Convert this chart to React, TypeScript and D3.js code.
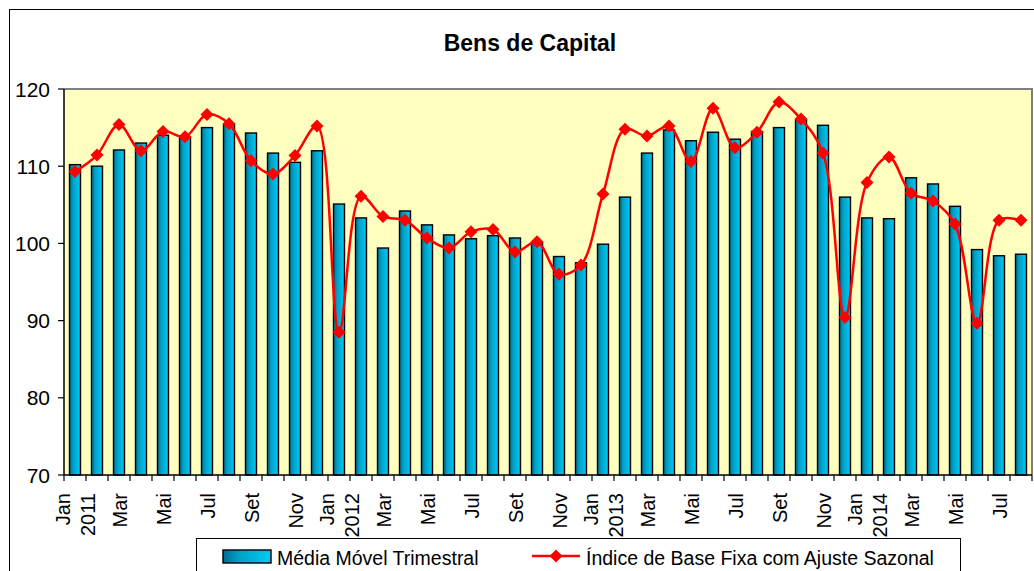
import React from "react";
import * as d3 from "d3";

const title = "Bens de Capital";
const monthNames = ["Jan", "Fev", "Mar", "Abr", "Mai", "Jun", "Jul", "Ago", "Set", "Out", "Nov", "Dez"];
const years = ["2011", "2012", "2013", "2014"];
const shownMonths = ["Jan", "Mar", "Mai", "Jul", "Set", "Nov"];

const mediaMovel = [
  110.2, 110.0, 112.1, 113.0, 114.0, 113.7, 115.0, 115.4, 114.3, 111.7, 110.5, 112.0,
  105.1, 103.3, 99.4, 104.2, 102.4, 101.1, 100.6, 101.0, 100.7, 100.1, 98.3, 97.5,
  99.9, 106.0, 111.7, 114.7, 113.3, 114.4, 113.5, 114.5, 115.0, 116.0, 115.3, 106.0,
  103.3, 103.2, 108.5, 107.7, 104.8, 99.2, 98.4, 98.6,
];
const indiceSazonal = [
  109.3, 111.45, 115.4, 112.0, 114.5, 113.8, 116.7, 115.5, 110.7, 109.0, 111.4, 115.2,
  88.5, 106.1, 103.5, 103.0, 100.7, 99.4, 101.5, 101.8, 98.9, 100.2, 96.0, 97.2,
  106.4, 114.8, 113.9, 115.2, 110.6, 117.5, 112.4, 114.4, 118.3, 116.1, 111.7, 90.4,
  107.9, 111.2, 106.5, 105.5, 102.5, 89.65, 103.0, 103.0,
];
const yTicks = [70, 80, 90, 100, 110, 120];
const legendLabels = ["Média Móvel Trimestral", "Índice de Base Fixa com Ajuste Sazonal"];

const FONT = "Arial, 'Liberation Sans', sans-serif";

export default function App() {
  const W = 1034, H = 571;
  const left = 64, right = 1032, top = 89, bottom = 475;
  const idx = mediaMovel.map((_, i) => i);
  const x = d3.scaleBand<number>().domain(idx).range([left, right]).paddingInner(0.5).paddingOuter(0.25);
  const step = x.step();
  const y = d3.scaleLinear().domain([70, 120]).range([bottom, top]);
  const cx = (i: number) => (x(i) as number) + x.bandwidth() / 2;

  const line = d3
    .line<number>()
    .x((_, i) => cx(i))
    .y((d) => y(d))
    .curve(d3.curveCatmullRom.alpha(0.5));

  const diamond = (px: number, py: number, r: number) =>
    `M${px},${py - r}L${px + r},${py}L${px},${py + r}L${px - r},${py}Z`;

  const labels = idx.map((i) => {
    const m = monthNames[i % 12];
    if (!shownMonths.includes(m)) return null;
    const yr = i % 12 === 0 ? years[Math.floor(i / 12)] : null;
    return { m, yr };
  });

  return (
    <svg width={W} height={H} style={{ position: "absolute", left: 0, top: 0, background: "#fff" }} fontFamily={FONT}>
      <defs>
        <linearGradient id="barGrad" x1="0" x2="1" y1="0" y2="0">
          <stop offset="0%" stopColor="#006F90" />
          <stop offset="35%" stopColor="#00A2C8" />
          <stop offset="100%" stopColor="#00CAF4" />
        </linearGradient>
      </defs>
      <rect x={9.5} y={9.5} width={1040} height={580} fill="#fff" stroke="#000" strokeWidth={1} />
      <text x={530} y={51} textAnchor="middle" fontSize={23} fontWeight="bold">{title}</text>

      <rect x={left} y={top} width={right - left} height={bottom - top} fill="#FFFFC0" />
      <path d={`M${left},${top}H${right}V${bottom}`} fill="none" stroke="#808080" strokeWidth={2} />

      {mediaMovel.map((v, i) => (
        <rect key={i} x={x(i)} y={y(v)} width={x.bandwidth()} height={bottom - y(v)}
          fill="url(#barGrad)" stroke="#000" strokeWidth={1.4} />
      ))}

      <path d={line(indiceSazonal) || ""} fill="none" stroke="#FF0000" strokeWidth={2.5} />
      {indiceSazonal.map((v, i) => (
        <path key={i} d={diamond(cx(i), y(v), 6.5)} fill="#FF0000" />
      ))}

      {/* y axis */}
      <line x1={left} x2={left} y1={top} y2={bottom} stroke="#000" strokeWidth={1.5} />
      {yTicks.map((t) => (
        <g key={t}>
          <line x1={58} x2={left} y1={y(t)} y2={y(t)} stroke="#000" strokeWidth={1.2} />
          <text x={50} y={y(t)} dy="0.36em" textAnchor="end" fontSize={21}>{t}</text>
        </g>
      ))}

      {/* x axis */}
      <line x1={left} x2={right} y1={bottom} y2={bottom} stroke="#000" strokeWidth={1.5} />
      {d3.range(idx.length + 1).map((k) => {
        const tx = left + k * step;
        return <line key={k} x1={tx} x2={tx} y1={bottom} y2={bottom + 6} stroke="#000" strokeWidth={1.2} />;
      })}
      {labels.map((l, i) => {
        if (!l) return null;
        const c = cx(i);
        if (l.yr) {
          return (
            <g key={i}>
              <text transform={`translate(${c - 5},493) rotate(-90)`} textAnchor="end" fontSize={20}>{l.m}</text>
              <text transform={`translate(${c + 20},493) rotate(-90)`} textAnchor="end" fontSize={20}>{l.yr}</text>
            </g>
          );
        }
        return (
          <text key={i} transform={`translate(${c + 8},493) rotate(-90)`} textAnchor="end" fontSize={20}>{l.m}</text>
        );
      })}

      {/* legend */}
      <rect x={196.5} y={538.5} width={764} height={45} fill="#fff" stroke="#000" strokeWidth={1} />
      <rect x={223} y={550} width={48} height={13} fill="url(#barGrad)" stroke="#000" strokeWidth={1.4} />
      <text x={277} y={565} fontSize={19.5}>{legendLabels[0]}</text>
      <line x1={532} x2={580} y1={556} y2={556} stroke="#FF0000" strokeWidth={2.5} />
      <path d={diamond(556, 556, 6.5)} fill="#FF0000" />
      <text x={586} y={565} fontSize={19.5}>{legendLabels[1]}</text>
    </svg>
  );
}
